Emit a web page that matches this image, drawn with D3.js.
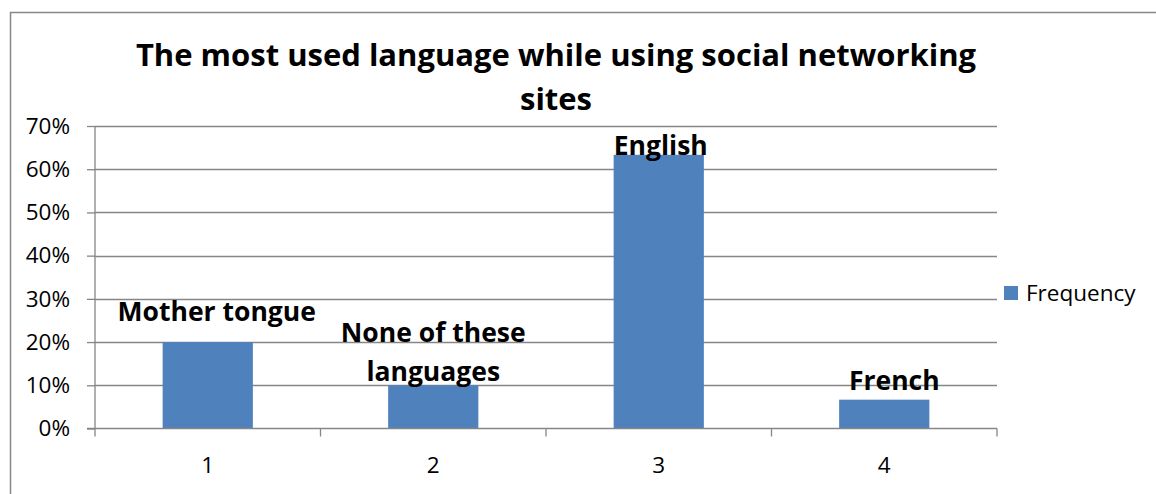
<!DOCTYPE html>
<html>
<head>
<meta charset="utf-8">
<script src="https://cdn.jsdelivr.net/npm/d3@7"></script>
<style>
  html, body { margin: 0; padding: 0; background: #fff; }
  svg { display: block; }
</style>
</head>
<body>
<svg id="chart" width="1156" height="494"></svg>
<script>
// Chart data
const categories = ["1", "2", "3", "4"];
const languages = ["Mother tongue", "None of these languages", "English", "French"];
const frequency = [20, 10, 63.33, 6.67];   // percent of respondents
const yTicks = [0, 10, 20, 30, 40, 50, 60, 70];
const seriesName = "Frequency";
const titleLines = ["The most used language while using social networking", "sites"];

// Layout
const W = 1156, H = 494;
const plot = { left: 95, right: 997, top: 126, bottom: 428.5 };
// Label line breaks and small offsets from each bar's top-centre
const labelLines = [["Mother tongue"], ["None of these", "languages"], ["English"], ["French"]];
const labelNudge = [[9, -21], [0, -4], [2, 0], [10, -10]];

const svg = d3.select("#chart");
const font = "'Open Sans', 'DejaVu Sans', sans-serif";
const grey = "#868686";
const tickFont = 22.5;

// Chart frame
svg.append("rect")
  .attr("x", 10.5).attr("y", 12.5)
  .attr("width", W + 20).attr("height", H + 20)
  .attr("fill", "#fff").attr("stroke", "#878787").attr("stroke-width", 1.5);

const x = d3.scaleBand().domain(categories).range([plot.left, plot.right]).paddingInner(0.6).paddingOuter(0.3);
const xCat = d3.scaleBand().domain(categories).range([plot.left, plot.right]);
const y = d3.scaleLinear().domain([0, 70]).range([plot.bottom, plot.top]);

// Gridlines
svg.append("g")
  .selectAll("line").data(yTicks.filter(d => d > 0)).join("line")
  .attr("x1", plot.left).attr("x2", plot.right)
  .attr("y1", d => Math.round(y(d)) + 0.5).attr("y2", d => Math.round(y(d)) + 0.5)
  .attr("stroke", grey).attr("stroke-width", 1.3);

// Bars
svg.append("g")
  .selectAll("rect").data(frequency).join("rect")
  .attr("x", (d, i) => x(categories[i]))
  .attr("width", x.bandwidth())
  .attr("y", d => y(d))
  .attr("height", d => y(0) - y(d))
  .attr("fill", "#4F81BD");

// Y axis
const yAxis = d3.axisLeft(y).tickValues(yTicks).tickFormat(d => d + "%").tickSize(8).tickPadding(17);
const gy = svg.append("g").attr("transform", `translate(${plot.left},0)`).call(yAxis);
gy.select(".domain").attr("stroke", grey).attr("stroke-width", 1.3).attr("d", `M0,${plot.top}V${plot.bottom}`);
gy.selectAll(".tick line").attr("stroke", grey).attr("stroke-width", 1.3);
gy.selectAll(".tick text").attr("font-family", font).attr("font-size", tickFont).attr("fill", "#000");

// X axis with category boundary ticks
const gx = svg.append("g").attr("transform", `translate(0,${plot.bottom})`);
gx.append("line").attr("x1", plot.left - 8).attr("x2", plot.right)
  .attr("stroke", grey).attr("stroke-width", 1.5);
const bounds = categories.map(c => xCat(c)).concat([plot.right]);
gx.selectAll("line.b").data(bounds).join("line").attr("class", "b")
  .attr("x1", d => d).attr("x2", d => d).attr("y1", 0).attr("y2", 8)
  .attr("stroke", grey).attr("stroke-width", 1.3);
gx.selectAll("text").data(categories).join("text")
  .attr("x", d => xCat(d) + xCat.bandwidth() / 2)
  .attr("y", 44)
  .attr("text-anchor", "middle")
  .attr("font-family", font).attr("font-size", tickFont).attr("fill", "#000")
  .text(d => d);

// Data labels
const lg = svg.append("g");
frequency.forEach((v, i) => {
  const cx = x(categories[i]) + x.bandwidth() / 2 + labelNudge[i][0];
  const base = y(v) + labelNudge[i][1];
  const lines = labelLines[i];
  lines.forEach((t, k) => {
    lg.append("text")
      .attr("x", cx)
      .attr("y", base - (lines.length - 1 - k) * 39)
      .attr("text-anchor", "middle")
      .attr("font-family", font).attr("font-weight", "bold").attr("font-size", 26.5)
      .attr("fill", "#000")
      .text(t);
  });
});

// Title
svg.append("g").selectAll("text").data(titleLines).join("text")
  .attr("x", 556).attr("y", (d, i) => 66 + i * 44)
  .attr("text-anchor", "middle")
  .attr("font-family", font).attr("font-weight", "bold").attr("font-size", 31)
  .attr("fill", "#000")
  .text(d => d);

// Legend
const leg = svg.append("g").attr("transform", "translate(1004,286)");
leg.append("rect").attr("width", 14).attr("height", 14).attr("fill", "#4F81BD");
leg.append("text").attr("x", 22).attr("y", 15)
  .attr("font-family", font).attr("font-size", tickFont).attr("fill", "#000")
  .text(seriesName);
</script>
</body>
</html>
